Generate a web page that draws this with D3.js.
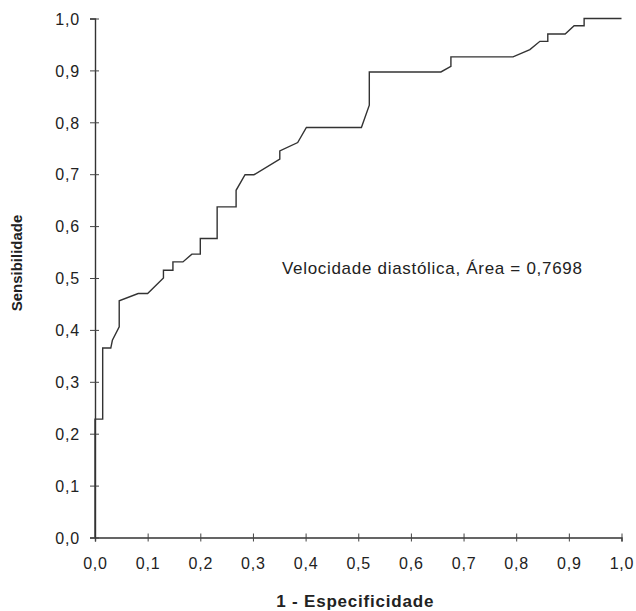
<!DOCTYPE html>
<html>
  <head>
    <title>Curva ROC</title>
    <meta charset="UTF-8" />
    <style>
      body { margin: 0; background: #fff; }
      text { font-family: Arial, "Liberation Sans", Helvetica, sans-serif; fill: #222; }
    </style>
  </head>
  <body>
    <script src="https://cdn.jsdelivr.net/npm/d3@7/dist/d3.min.js" charset="utf-8"></script>
    <script>
      // pontos da curva ROC (1 - especificidade, sensibilidade)
      var fpr = [0, 0, 0.0146, 0.0146, 0.030, 0.033, 0.046, 0.046, 0.082, 0.100,
                 0.130, 0.130, 0.148, 0.148, 0.167, 0.184, 0.200, 0.200, 0.232, 0.232,
                 0.268, 0.268, 0.285, 0.302, 0.351, 0.351, 0.385, 0.4015, 0.506, 0.521,
                 0.521, 0.657, 0.676, 0.676, 0.794, 0.826, 0.845, 0.860, 0.860, 0.893,
                 0.910, 0.929, 0.929, 1.0];
      var sens = [0, 0.228, 0.228, 0.365, 0.365, 0.380, 0.406, 0.456, 0.470, 0.470,
                  0.500, 0.515, 0.515, 0.531, 0.531, 0.546, 0.546, 0.576, 0.576, 0.637,
                  0.637, 0.669, 0.699, 0.699, 0.729, 0.745, 0.761, 0.790, 0.790, 0.833,
                  0.897, 0.897, 0.908, 0.926, 0.926, 0.940, 0.956, 0.956, 0.970, 0.970,
                  0.986, 0.986, 1.0, 1.0];
      var ticks = [0, 0.1, 0.2, 0.3, 0.4, 0.5, 0.6, 0.7, 0.8, 0.9, 1.0];
      var label = "Velocidade diastólica, Área = 0,7698";

      var width = 636, height = 611;
      var margin = { top: 18.5, right: 14.5, bottom: 73.5, left: 95 };
      var w = width - margin.left - margin.right;
      var h = height - margin.top - margin.bottom;

      var data = fpr.map(function(d, i) { return { x: d, y: sens[i] }; });

      var fmt = function(d) { return d3.format(".1f")(d).replace(".", ","); };

      var svg = d3.select("body")
                .append("svg")
                .attr("width", width)
                .attr("height", height);

      var g = svg.append("g")
                .attr("transform", "translate(" + margin.left + "," + margin.top + ")");

      var x = d3.scaleLinear().domain([0, 1]).range([0, w]);
      var y = d3.scaleLinear().domain([0, 1]).range([h, 0]);

      var xAxis = g.append("g")
                .attr("transform", "translate(0," + h + ")")
                .call(d3.axisBottom(x).tickValues(ticks).tickFormat(fmt).tickSize(4).tickPadding(16));

      var yAxis = g.append("g")
                .call(d3.axisLeft(y).tickValues(ticks).tickFormat(fmt).tickSize(5).tickPadding(10));

      // traços cruzando o eixo
      xAxis.selectAll(".tick line").attr("y1", -4);
      yAxis.selectAll(".tick line").attr("x1", 4);

      [xAxis, yAxis].forEach(function(a) {
        a.select(".domain").attr("stroke", "#333").attr("stroke-width", 1.4);
        a.selectAll(".tick line").attr("stroke", "#444").attr("stroke-width", 1);
        a.selectAll(".tick text")
          .style("font-size", "16px")
          .style("letter-spacing", "0.8px")
          .attr("fill", "#222");
      });
      yAxis.selectAll(".tick text").attr("dy", "0.36em");

      var line = d3.line()
                .x(function(d) { return x(d.x); })
                .y(function(d) { return y(d.y); });

      g.append("path")
        .datum(data)
        .attr("d", line)
        .attr("fill", "none")
        .attr("stroke", "#333")
        .attr("stroke-width", 1.4);

      g.append("text")
        .attr("x", x(0.355))
        .attr("y", y(0.508))
        .style("font-size", "17px")
        .style("letter-spacing", "0.7px")
        .text(label);

      svg.append("text")
        .attr("x", margin.left + w / 2 - 3)
        .attr("y", 607)
        .attr("text-anchor", "middle")
        .style("font-size", "17px")
        .style("font-weight", "bold")
        .style("letter-spacing", "0.8px")
        .text("1 - Especificidade");

      svg.append("text")
        .attr("transform", "translate(22," + 263 + ") rotate(-90)")
        .attr("text-anchor", "middle")
        .style("font-size", "15px")
        .style("font-weight", "bold")
        .text("Sensibilidade");
    </script>
  </body>
</html>
